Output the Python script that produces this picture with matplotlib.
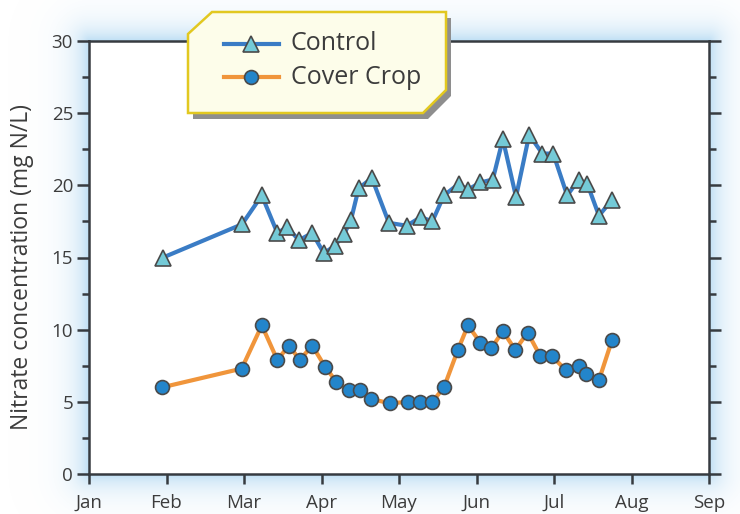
import numpy as np
import matplotlib
matplotlib.use("Agg")
import matplotlib.pyplot as plt
from matplotlib.patches import Polygon
from matplotlib.ticker import MultipleLocator

# x values are months since Jan 1 (the month ticks are evenly spaced)
month_labels = ["Jan", "Feb", "Mar", "Apr", "May", "Jun", "Jul", "Aug", "Sep"]
series_names = ["Control", "Cover Crop"]

control_month = [0.955, 1.974, 2.23, 2.43, 2.555, 2.71, 2.88, 3.03, 3.17, 3.29, 3.38,
                 3.48, 3.65, 3.87, 4.10, 4.28, 4.43, 4.58, 4.77, 4.89, 5.05, 5.21,
                 5.34, 5.51, 5.68, 5.85, 5.99, 6.17, 6.32, 6.43, 6.58, 6.75]
control_nitrate = [15.0, 17.3, 19.3, 16.7, 17.1, 16.2, 16.7, 15.3, 15.8, 16.6, 17.6,
                   19.8, 20.5, 17.4, 17.2, 17.8, 17.5, 19.3, 20.1, 19.7, 20.2, 20.4,
                   23.2, 19.2, 23.5, 22.2, 22.2, 19.3, 20.4, 20.1, 17.9, 19.0]

cover_month = [0.94, 1.97, 2.23, 2.43, 2.58, 2.72, 2.88, 3.05, 3.19, 3.35, 3.50,
               3.64, 3.88, 4.12, 4.27, 4.43, 4.58, 4.76, 4.89, 5.05, 5.19, 5.34,
               5.50, 5.66, 5.82, 5.97, 6.15, 6.32, 6.41, 6.58, 6.75]
cover_nitrate = [6.0, 7.3, 10.3, 7.9, 8.9, 7.9, 8.9, 7.4, 6.4, 5.8, 5.8,
                 5.2, 4.9, 5.0, 5.0, 5.0, 6.0, 8.6, 10.3, 9.1, 8.7, 9.9,
                 8.6, 9.8, 8.2, 8.2, 7.2, 7.5, 6.9, 6.5, 9.3]

plt.rcParams['font.family'] = ['Open Sans', 'DejaVu Sans']
text_color = '#3c3c3c'
axis_color = '#363b40'

ctrl_style = dict(color='#3a7cc5', lw=3, marker='^', ms=11,
                  mfc='#74cad7', mec='#4a4a4a', mew=1.2)
cover_style = dict(color='#f0953b', lw=3, marker='o', ms=10,
                   mfc='#2385cb', mec='#4a4a4a', mew=1.2)

W, H = 740, 514
L, R, T, B = 89, 709, 41, 474  # axes box in pixels

fig = plt.figure(figsize=(W / 100, H / 100), dpi=100)

# soft blue glow around the plot frame
bg = fig.add_axes([0, 0, 1, 1], zorder=-1)
yy, xx = np.mgrid[0:H, 0:W] + 0.5
dx = np.maximum(np.maximum(L - xx, xx - R), 0)
dy = np.maximum(np.maximum(T - yy, yy - B), 0)
d = np.hypot(dx, dy)
glow = np.zeros((H, W, 4))
glow[..., 0], glow[..., 1], glow[..., 2] = 0.70, 0.85, 0.95
glow[..., 3] = 0.85 * np.exp(-d / 15.0)
bg.imshow(glow, extent=(0, W, H, 0), aspect='auto', interpolation='bilinear')
bg.set_xlim(0, W)
bg.set_ylim(H, 0)
bg.axis('off')

ax = fig.add_axes([L / W, 1 - B / H, (R - L) / W, (B - T) / H])
ax.set_facecolor('white')
ax.plot(control_month, control_nitrate, **ctrl_style)
ax.plot(cover_month, cover_nitrate, **cover_style)

ax.set_xlim(0, 8)
ax.set_ylim(0, 30)
ax.set_xticks(range(len(month_labels)))
ax.set_xticklabels(month_labels)
ax.yaxis.set_major_locator(MultipleLocator(5))
ax.yaxis.set_minor_locator(MultipleLocator(2.5))
ax.tick_params(axis='y', which='both', left=True, right=True, direction='out',
               color=axis_color, width=1.8, labelsize=13.5, labelcolor=text_color, pad=3)
ax.tick_params(axis='y', which='major', length=8.5)
ax.tick_params(axis='y', which='minor', length=5)
ax.tick_params(axis='x', which='both', bottom=True, top=False, direction='out',
               color=axis_color, width=1.8, length=7.5, labelsize=13.5,
               labelcolor=text_color, pad=7)
for s in ax.spines.values():
    s.set_color(axis_color)
    s.set_linewidth(1.8)
ax.set_ylabel('Nitrate concentration (mg N/L)', fontsize=16.5, color=text_color)
ax.yaxis.set_label_coords(-0.089, 0.478)

# legend box drawn by hand (clipped corners and drop shadow)
ov = fig.add_axes([0, 0, 1, 1], zorder=5)
ov.set_xlim(0, W)
ov.set_ylim(H, 0)
ov.axis('off')
box = np.array([(188, 34), (212, 12), (446, 12), (446, 90), (423, 113), (188, 113)])
ov.add_patch(Polygon(box + [5, 6], closed=True, fc='#8e8e8e', ec='none'))
ov.add_patch(Polygon(box, closed=True, fc='#fdfdea', ec='#e2c820', lw=1.8))
for i, (name, style) in enumerate(zip(series_names, [ctrl_style, cover_style])):
    y = 44 + 33 * i
    ov.plot([224, 279], [y, y], color=style['color'], lw=style['lw'])
    ov.plot([251], [y], ls='none', marker=style['marker'], ms=style['ms'],
            mfc=style['mfc'], mec=style['mec'], mew=style['mew'])
    ov.text(291, y, name, fontsize=18, color=text_color, va='center', ha='left')

fig.savefig('out.png', dpi=100, facecolor='white')
